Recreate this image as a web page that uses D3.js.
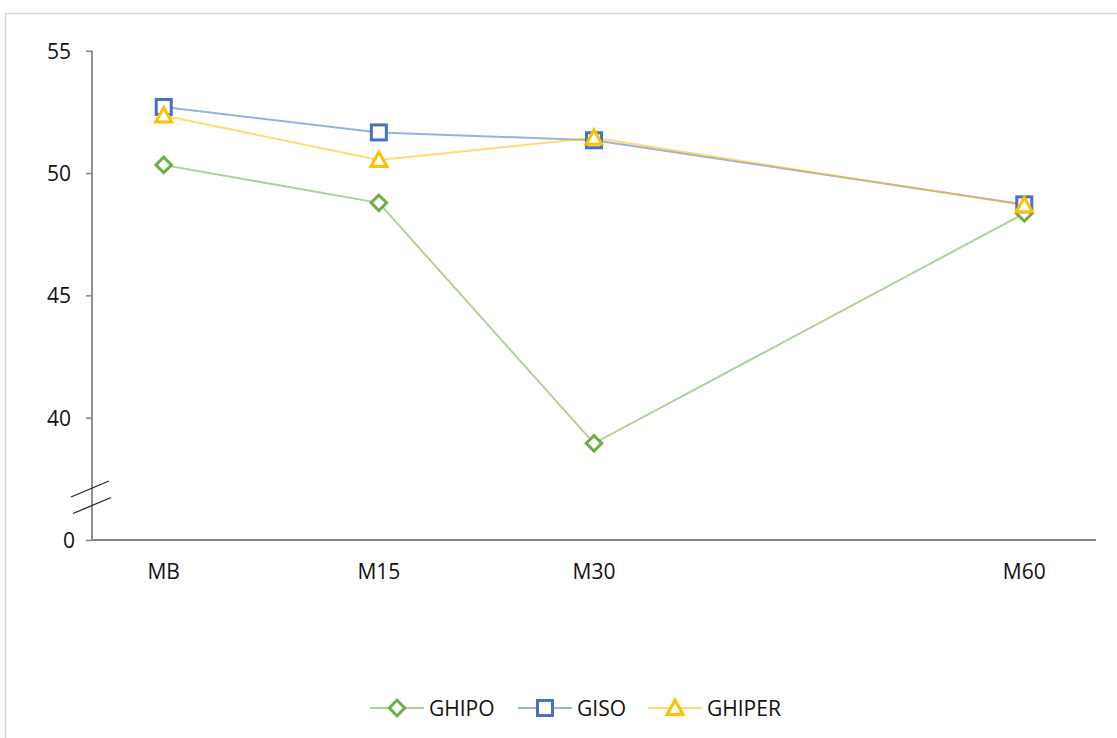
<!DOCTYPE html>
<html>
<head>
<meta charset="utf-8">
<script src="https://cdn.jsdelivr.net/npm/d3@7"></script>
<style>
  html, body { margin: 0; padding: 0; background: #fff; }
  svg { display: block; font-family: "Open Sans", "Noto Sans", sans-serif; }
</style>
</head>
<body>
<svg id="chart" width="1117" height="738"></svg>
<script>
// ---- data ----
const categories = ["MB", "M15", "M30", "M60"];
const minutes = [0, 15, 30, 60];
const ghipo = [50.33, 48.78, 38.95, 48.35];
const giso = [52.70, 51.66, 51.34, 48.72];
const ghiper = [52.35, 50.53, 51.44, 48.68];
const seriesNames = ["GHIPO", "GISO", "GHIPER"];
const yTicks = [0, 40, 45, 50, 55];

// ---- setup ----
const svg = d3.select("#chart");

// outer frame
svg.append("rect")
  .attr("x", 5.5).attr("y", 13.5)
  .attr("width", 1300).attr("height", 900)
  .attr("fill", "#fff").attr("stroke", "#d9d9d9").attr("stroke-width", 1.5);

const x = d3.scaleLinear().domain([-5, 65]).range([92, 1096]);
// broken axis: linear from ~36 upward, 0 placed at the baseline
const yLin = d3.scaleLinear().domain([35, 55]).range([540, 50.7]);
const y = d3.scaleLinear().domain([0, 36, 55]).range([540, yLin(36), yLin(55)]);

const axisColor = "#868686";
const fs = 21;

// y axis
const yAxis = svg.append("g")
  .attr("transform", `translate(${x(-5)},0)`)
  .call(d3.axisLeft(y).tickValues(yTicks).tickSize(6).tickPadding(15).tickFormat(d3.format("d")));
yAxis.select(".domain").attr("stroke", axisColor).attr("stroke-width", 1.8)
  .attr("d", `M0,${y(55)}V${y(0)}`);
yAxis.selectAll(".tick line").attr("stroke", axisColor).attr("stroke-width", 1.5);
yAxis.selectAll(".tick text")
  .attr("fill", "#111").attr("font-size", fs)
  .attr("font-family", "'Open Sans', sans-serif")
  .attr("dy", "0.36em");
yAxis.selectAll(".tick").filter(d => d === 0).select("text").attr("dx", 4);

// x axis
svg.append("line")
  .attr("x1", x(-5)).attr("x2", x(65))
  .attr("y1", y(0)).attr("y2", y(0))
  .attr("stroke", axisColor).attr("stroke-width", 2);

svg.append("g").selectAll("text")
  .data(categories)
  .join("text")
  .attr("x", (d, i) => x(minutes[i]))
  .attr("y", y(0) + 39)
  .attr("text-anchor", "middle")
  .attr("font-size", fs)
  .attr("fill", "#111")
  .text(d => d);

// axis break marks
const bx = x(-5), by = y(0) - 43;
const brk = svg.append("g").attr("stroke", "#222").attr("stroke-width", 1.3);
brk.append("line").attr("x1", bx - 21).attr("y1", by + 0).attr("x2", bx + 17).attr("y2", by - 16);
brk.append("line").attr("x1", bx - 19).attr("y1", by + 16.5).attr("x2", bx + 19).attr("y2", by + 0.5);

// ---- series ----
const colors = ["#70AD47", "#4472C4", "#FFC000"];
const seriesVals = [ghipo, giso, ghiper];

function drawMarker(g, type, color) {
  if (type === 0) {
    g.append("rect").attr("x", -5.5).attr("y", -5.5).attr("width", 11).attr("height", 11)
      .attr("transform", "rotate(45)")
      .attr("fill", "#fff").attr("stroke", color).attr("stroke-width", 3);
  } else if (type === 1) {
    g.append("rect").attr("x", -7.5).attr("y", -7.5).attr("width", 15).attr("height", 15)
      .attr("fill", "#fff").attr("stroke", color).attr("stroke-width", 3);
  } else {
    g.append("path").attr("d", "M0,-8L8,6.5L-8,6.5Z")
      .attr("fill", "#fff").attr("stroke", color).attr("stroke-width", 3)
      .attr("stroke-linejoin", "miter");
  }
}

const line = d3.line().x(d => x(d[0])).y(d => y(d[1]));

seriesVals.forEach((vals, s) => {
  const pts = vals.map((v, i) => [minutes[i], v]);
  svg.append("path")
    .datum(pts)
    .attr("d", line)
    .attr("fill", "none")
    .attr("stroke", colors[s])
    .attr("stroke-opacity", 0.55)
    .attr("stroke-width", 2);
});
seriesVals.forEach((vals, s) => {
  vals.forEach((v, i) => {
    const g = svg.append("g").attr("transform", `translate(${x(minutes[i])},${y(v)})`);
    drawMarker(g, s, colors[s]);
  });
});

// ---- legend ----
const legendX = [397, 545, 675];
const legendY = 708;
seriesNames.forEach((name, s) => {
  const lg = svg.append("g");
  lg.append("line")
    .attr("x1", legendX[s] - 27).attr("x2", legendX[s] + 27)
    .attr("y1", legendY).attr("y2", legendY)
    .attr("stroke", colors[s]).attr("stroke-opacity", 0.55).attr("stroke-width", 2);
  const m = lg.append("g").attr("transform", `translate(${legendX[s]},${legendY})`);
  drawMarker(m, s, colors[s]);
  lg.append("text")
    .attr("x", legendX[s] + 32).attr("y", legendY)
    .attr("dy", "0.36em")
    .attr("font-size", fs)
    .attr("fill", "#111")
    .text(name);
});
</script>
</body>
</html>
